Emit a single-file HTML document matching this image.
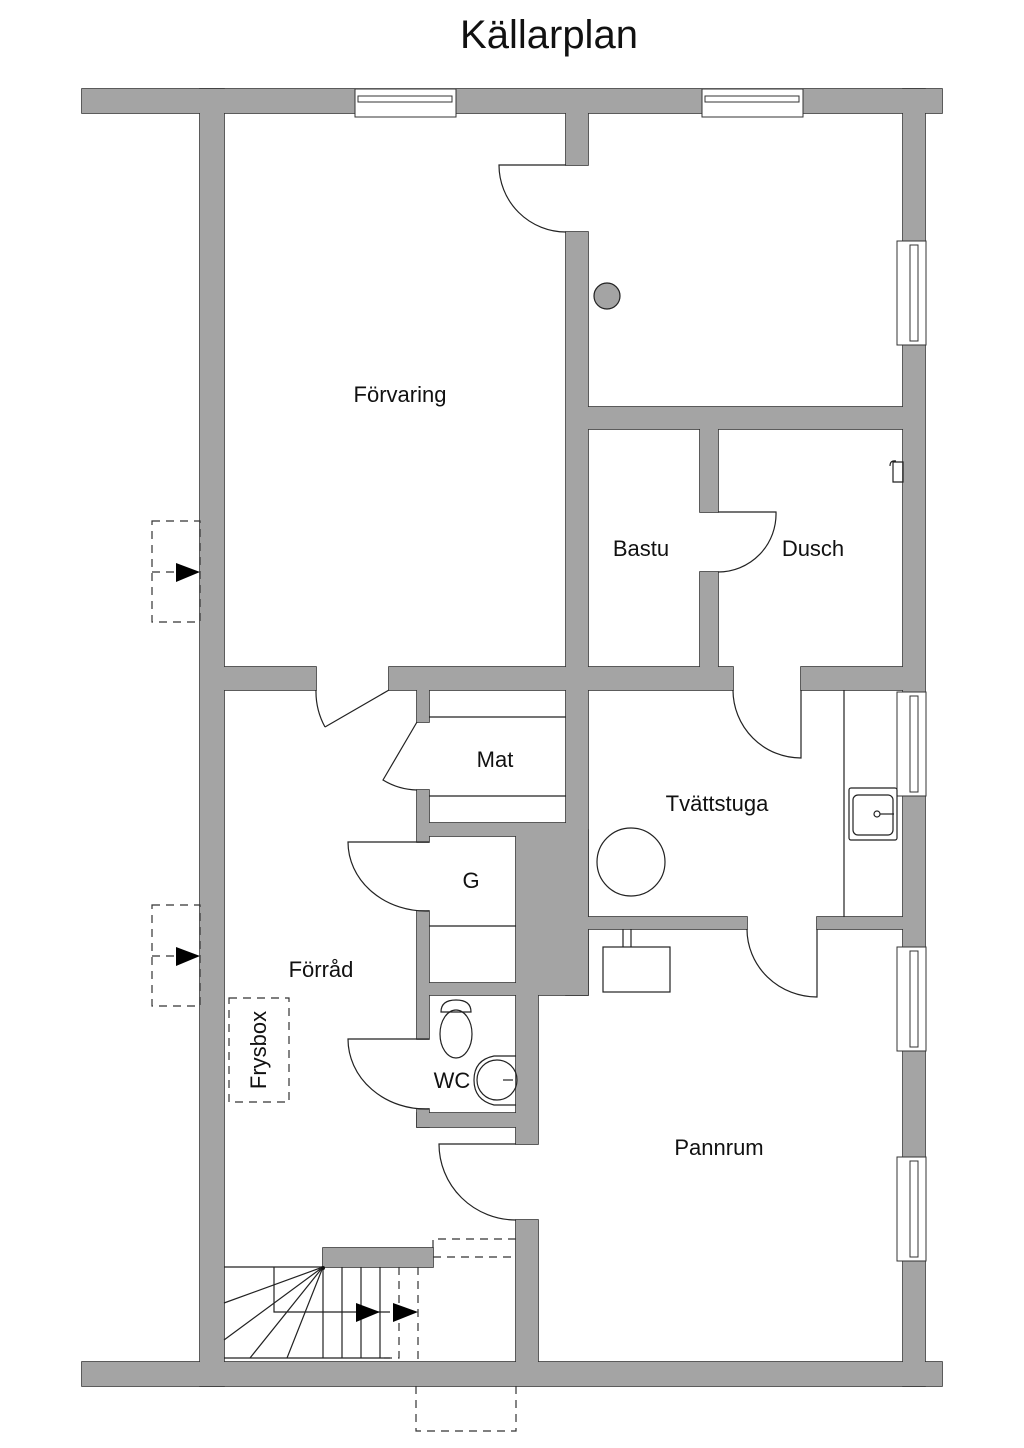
<!DOCTYPE html>
<html><head><meta charset="utf-8"><style>
html,body{margin:0;padding:0;background:#fff;}
svg{display:block;}
text{font-family:"Liberation Sans",sans-serif;fill:#111;}
</style></head><body>
<svg width="1024" height="1448" viewBox="0 0 1024 1448" xmlns="http://www.w3.org/2000/svg">
<defs>
<g id="walls">
<rect x="82" y="89" width="860" height="24"/>
<rect x="200" y="89" width="24" height="1297"/>
<rect x="82" y="1362" width="860" height="24"/>
<rect x="903" y="89" width="22" height="1297"/>
<rect x="566" y="100" width="22" height="65"/>
<rect x="566" y="232" width="22" height="763"/>
<rect x="580" y="407" width="330" height="22"/>
<rect x="700" y="420" width="18" height="92"/>
<rect x="700" y="572" width="18" height="105"/>
<rect x="210" y="667" width="106" height="23"/>
<rect x="389" y="667" width="344" height="23"/>
<rect x="801" y="667" width="110" height="23"/>
<rect x="417" y="680" width="12" height="42"/>
<rect x="417" y="790" width="12" height="52"/>
<rect x="417" y="911" width="12" height="128"/>
<rect x="417" y="1109" width="12" height="18"/>
<rect x="420" y="823" width="155" height="13"/>
<rect x="516" y="830" width="72" height="165"/>
<rect x="420" y="983" width="105" height="12"/>
<rect x="516" y="990" width="22" height="154"/>
<rect x="417" y="1113" width="110" height="14"/>
<rect x="580" y="917" width="167" height="12"/>
<rect x="817" y="917" width="94" height="12"/>
<rect x="516" y="1220" width="22" height="150"/>
<rect x="323" y="1248" width="110" height="19"/>
</g>
</defs>
<text x="549" y="48" font-size="40" text-anchor="middle">Källarplan</text>

<use href="#walls" fill="#a4a4a4" stroke="#333" stroke-width="1.6"/>
<use href="#walls" fill="#a4a4a4" stroke="#a4a4a4" stroke-width="0" transform="translate(0,0)" style="fill:#a4a4a4"/>
<g fill="#a4a4a4">
<rect x="82.8" y="89.8" width="858.4" height="22.4"/>
<rect x="200.8" y="89.8" width="22.4" height="1295.4"/>
<rect x="82.8" y="1362.8" width="858.4" height="22.4"/>
<rect x="903.8" y="89.8" width="20.4" height="1295.4"/>
<rect x="566.8" y="100" width="20.4" height="64.2"/>
<rect x="566.8" y="232.8" width="20.4" height="761.4"/>
<rect x="580" y="407.8" width="330" height="20.4"/>
<rect x="700.8" y="420" width="16.4" height="91.2"/>
<rect x="700.8" y="572.8" width="16.4" height="104"/>
<rect x="210" y="667.8" width="105.2" height="21.4"/>
<rect x="389.8" y="667.8" width="342.4" height="21.4"/>
<rect x="801.8" y="667.8" width="110" height="21.4"/>
<rect x="417.8" y="680" width="10.4" height="41.2"/>
<rect x="417.8" y="790.8" width="10.4" height="50.4"/>
<rect x="417.8" y="911.8" width="10.4" height="126.4"/>
<rect x="417.8" y="1109.8" width="10.4" height="16.4"/>
<rect x="420" y="823.8" width="155" height="11.4"/>
<rect x="516.8" y="830" width="70.4" height="164.2"/>
<rect x="420" y="983.8" width="105" height="10.4"/>
<rect x="516.8" y="990" width="20.4" height="153.2"/>
<rect x="417.8" y="1113.8" width="108" height="12.4"/>
<rect x="580" y="917.8" width="166.2" height="10.4"/>
<rect x="817.8" y="917.8" width="94" height="10.4"/>
<rect x="516.8" y="1220.8" width="20.4" height="149"/>
<rect x="323.8" y="1248.8" width="108.4" height="17.4"/>
</g>

<!-- windows -->
<g fill="#fff" stroke="#333" stroke-width="1">
<rect x="355" y="89" width="101" height="28"/>
<rect x="358" y="96" width="94" height="6"/>
<rect x="702" y="89" width="101" height="28"/>
<rect x="705" y="96" width="94" height="6"/>
<rect x="897" y="241" width="29" height="104"/>
<rect x="910" y="245" width="8" height="96"/>
<rect x="897" y="692" width="29" height="104"/>
<rect x="910" y="696" width="8" height="96"/>
<rect x="897" y="947" width="29" height="104"/>
<rect x="910" y="951" width="8" height="96"/>
<rect x="897" y="1157" width="29" height="104"/>
<rect x="910" y="1161" width="8" height="96"/>
</g>

<g fill="none" stroke="#222" stroke-width="1.2">
<path d="M566 165 H499 A67 67 0 0 0 566 232"/>
<path d="M718 512 H776 A58 58 0 0 1 718 572"/>
<path d="M389 690 L325 727 M316 690 A74 74 0 0 0 325 727"/>
<path d="M417 722 L383 780 A68 68 0 0 0 417 790"/>
<path d="M429 842 H348 A78 69 0 0 0 429 911"/>
<path d="M429 1039 H348 A78 70 0 0 0 429 1109"/>
<path d="M801 690 V758 A68 68 0 0 1 733 690"/>
<path d="M817 929 V997 A70 68 0 0 1 747 929"/>
<path d="M516 1144 H439 A77 76 0 0 0 516 1220"/>
<path d="M429 717 H566 M429 796 H566"/>
<path d="M429 926 H516"/>
<path d="M844 690 V917"/>
<rect x="603" y="947" width="67" height="45"/>
<path d="M623 929 V947 M631 929 V947"/>
<circle cx="631" cy="862" r="34"/>
<rect x="849" y="788" width="48" height="52" rx="2"/>
<rect x="853" y="795" width="40" height="40" rx="5"/>
<circle cx="877" cy="814" r="3"/>
<path d="M880 814 H894"/>
<path d="M441 1012 Q441 1000 456 1000 Q471 1000 471 1012 Z"/>
<ellipse cx="456" cy="1034" rx="16" ry="24"/>
<path d="M516 1056 H494 Q474 1060 474 1080 Q474 1100 494 1105 H516"/>
<circle cx="497" cy="1080" r="20"/>
<path d="M503 1080 H513"/>
<path d="M893 462 h10 v20 h-10 z M890 466 q0 -6 6 -5"/>
<path d="M224 1267 H323 M224 1358 H390 M323 1267 V1358 M342 1267 V1358 M361 1267 V1358 M380 1267 V1358"/>
<path d="M323 1267 L224 1303 M323 1267 L224 1340 M323 1267 L250 1358 M323 1267 L287 1358"/>
<path d="M274 1267 V1312 H390"/>
</g>
<circle cx="607" cy="296" r="13" fill="#a4a4a4" stroke="#222" stroke-width="1.2"/>
<circle cx="323" cy="1268" r="2" fill="#111"/>

<g fill="none" stroke="#333" stroke-width="1.2" stroke-dasharray="8,6">
<rect x="152" y="521" width="48" height="101"/>
<path d="M152 572 H176"/>
<rect x="152" y="905" width="48" height="101"/>
<path d="M152 956 H176"/>
<rect x="229" y="998" width="60" height="104"/>
<path d="M399 1267 V1358 H380 M418 1267 V1362"/>
<path d="M433 1248 V1239 H516 M433 1257 H516"/>
<path d="M416 1386 V1431 H516 V1386"/>
</g>
<g fill="#000">
<polygon points="176,563 200,572 176,582"/>
<polygon points="176,947 200,956 176,966"/>
<polygon points="356,1303 380,1312 356,1322"/>
<polygon points="393,1303 418,1312 393,1322"/>
</g>

<g font-size="22" text-anchor="middle">
<text x="400" y="402">Förvaring</text>
<text x="641" y="556">Bastu</text>
<text x="813" y="556">Dusch</text>
<text x="495" y="767">Mat</text>
<text x="717" y="811">Tvättstuga</text>
<text x="471" y="888">G</text>
<text x="321" y="977">Förråd</text>
<text x="452" y="1088">WC</text>
<text x="719" y="1155">Pannrum</text>
<text x="0" y="0" transform="translate(266,1050) rotate(-90)">Frysbox</text>
</g>
</svg>
</body></html>
